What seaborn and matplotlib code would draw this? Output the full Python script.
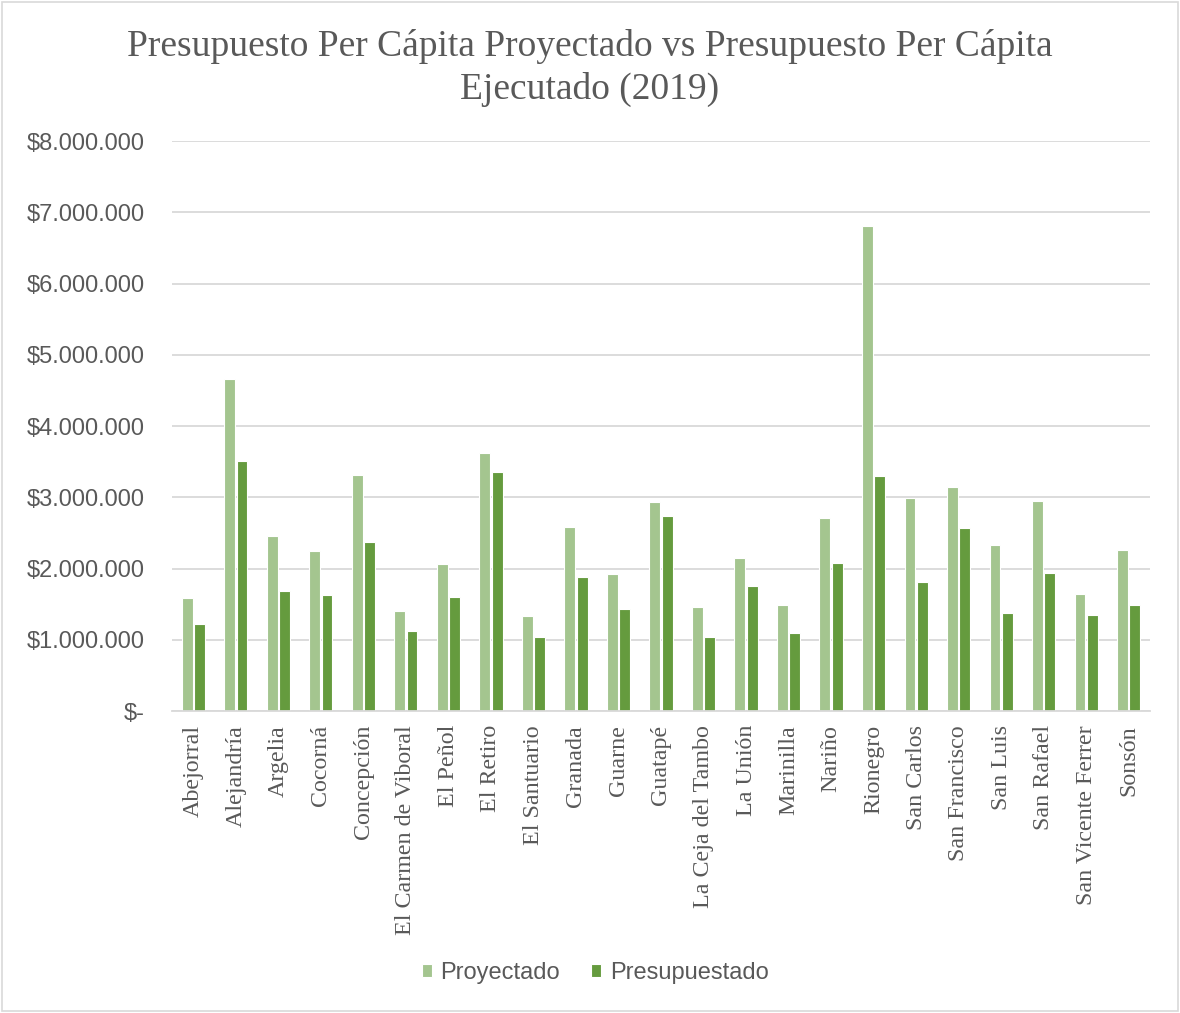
import pandas as pd
import matplotlib.pyplot as plt
import seaborn as sns
from matplotlib.ticker import FuncFormatter
from matplotlib.patches import Rectangle

# municipios y valores (en pesos)
municipios = ["Abejorral", "Alejandría", "Argelia", "Cocorná", "Concepción",
              "El Carmen de Viboral", "El Peñol", "El Retiro", "El Santuario",
              "Granada", "Guarne", "Guatapé", "La Ceja del Tambo", "La Unión",
              "Marinilla", "Nariño", "Rionegro", "San Carlos", "San Francisco",
              "San Luis", "San Rafael", "San Vicente Ferrer", "Sonsón"]

proyectado = [1586000, 4655000, 2461000, 2241000, 3308000, 1404000, 2068000,
              3621000, 1333000, 2585000, 1923000, 2929000, 1455000, 2147000,
              1488000, 2705000, 6807000, 2989000, 3144000, 2330000, 2947000,
              1642000, 2255000]

presupuestado = [1226000, 3513000, 1689000, 1628000, 2376000, 1127000, 1595000,
                 3359000, 1039000, 1876000, 1436000, 2737000, 1039000, 1754000,
                 1090000, 2073000, 3298000, 1815000, 2566000, 1370000, 1941000,
                 1342000, 1483000]

series = ["Proyectado", "Presupuestado"]
colores = ["#a4c58f", "#659b3e"]

# long format fuer seaborn
df = pd.DataFrame({
    "Municipio": municipios * 2,
    "Serie": [series[0]] * len(municipios) + [series[1]] * len(municipios),
    "Valor": proyectado + presupuestado,
})

gris = "#595959"
serif = ["Liberation Serif", "DejaVu Serif"]
sans = ["Liberation Sans", "DejaVu Sans"]

sns.set_style("white")
plt.rcParams["font.family"] = sans

fig = plt.figure(figsize=(11.8, 10.13), dpi=100)
ax = fig.add_axes([172 / 1180, 1 - 711 / 1013, (1150 - 172) / 1180, (711 - 141) / 1013])

sns.barplot(data=df, x="Municipio", y="Valor", hue="Serie", palette=colores,
            width=0.58, gap=0.12, edgecolor="white", linewidth=0.8,
            saturation=1, ax=ax, legend=True)

ax.set_ylim(0, 8000000)
ax.set_xlim(-0.5, len(municipios) - 0.5)
ax.set_yticks(range(0, 8000001, 1000000))
ax.yaxis.set_major_formatter(FuncFormatter(
    lambda v, p: "$-" if v == 0 else "$" + f"{int(v):,}".replace(",", ".")))
ax.grid(axis="y", color="#d9d9d9", linewidth=1.3)
ax.set_axisbelow(True)
for s in ["top", "right", "left"]:
    ax.spines[s].set_visible(False)
ax.spines["bottom"].set_color("#d9d9d9")
ax.spines["bottom"].set_linewidth(1.3)
ax.set_xlabel("")
ax.set_ylabel("")

ax.tick_params(axis="y", length=0, pad=19.5, labelsize=17, labelcolor=gris)
ax.tick_params(axis="x", length=0, pad=10)
for lbl in ax.get_xticklabels():
    lbl.set_rotation(90)
    lbl.set_family(serif)
    lbl.set_fontsize(17.3)
    lbl.set_color(gris)

# titel
fig.text(0.5, 1 - 46 / 1013, "Presupuesto Per Cápita Proyectado vs Presupuesto Per Cápita",
         ha="center", va="center", family=serif, fontsize=27, color=gris)
fig.text(0.5, 1 - 89 / 1013, "Ejecutado (2019)",
         ha="center", va="center", family=serif, fontsize=27, color=gris)

# legende unten
handles, labels = ax.get_legend_handles_labels()
ax.get_legend().remove()
fig.legend(handles, labels, loc="center", bbox_to_anchor=(595 / 1180, 1 - 973 / 1013),
           ncol=2, frameon=False, fontsize=17, labelcolor=gris,
           handlelength=0.45, handleheight=0.45, handletextpad=0.35, columnspacing=1.3)

# rahmen
fig.patches.append(Rectangle((0.002, 0.002), 0.996, 0.996, transform=fig.transFigure,
                             fill=False, edgecolor="#d9d9d9", linewidth=1.2))

plt.savefig("out.png", dpi=100)
